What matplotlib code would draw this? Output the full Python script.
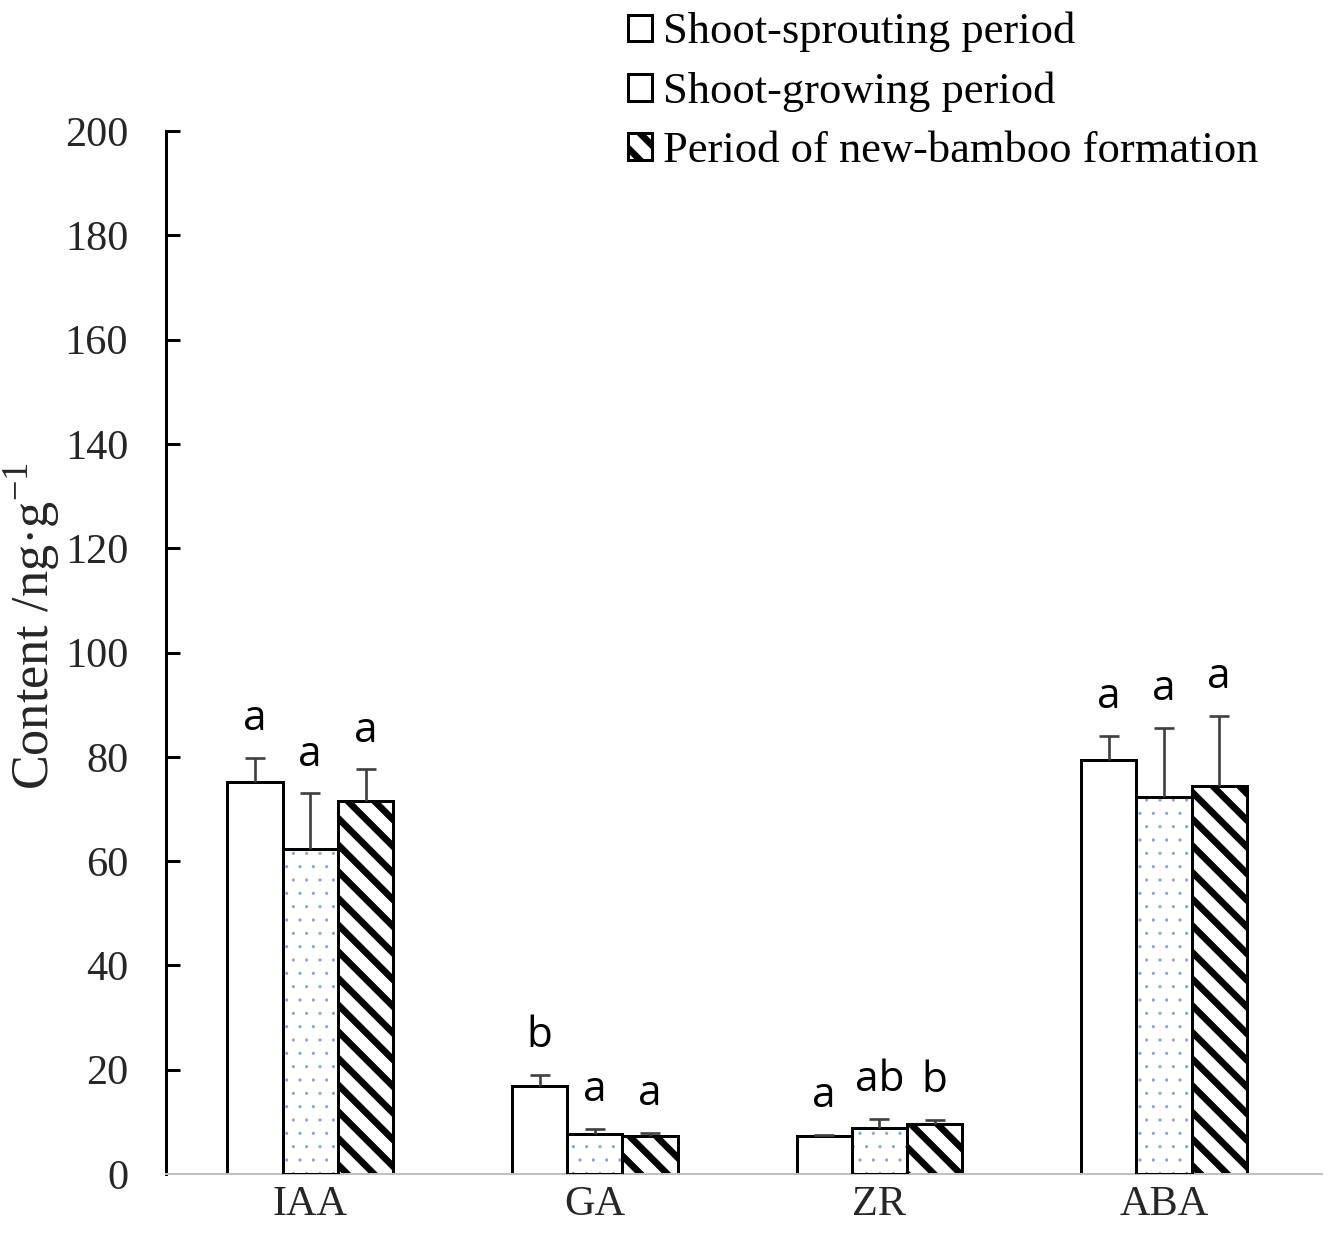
import numpy as np
import matplotlib
matplotlib.use('Agg')
import matplotlib.pyplot as plt
from matplotlib.patches import Patch

# Hormongehalte in drei Wachstumsphasen (Mittelwert + Standardfehler)
hormones = ['IAA', 'GA', 'ZR', 'ABA']
periods = ['Shoot-sprouting period', 'Shoot-growing period',
           'Period of new-bamboo formation']

sprouting = [75.1, 16.9, 7.3, 79.4]
sprouting_err = [4.7, 2.1, 0.2, 4.6]
growing = [62.3, 7.6, 8.8, 72.3]
growing_err = [10.7, 1.0, 1.7, 13.3]
formation = [71.6, 7.3, 9.6, 74.4]
formation_err = [6.0, 0.6, 0.8, 13.4]

letters_sprouting = ['a', 'b', 'a', 'a']
letters_growing = ['a', 'a', 'ab', 'a']
letters_formation = ['a', 'a', 'b', 'a']

plt.rcParams['font.family'] = ['Liberation Serif', 'DejaVu Serif']
plt.rcParams['mathtext.fontset'] = 'custom'
plt.rcParams['mathtext.rm'] = 'Liberation Serif'

fig = plt.figure(figsize=(16.6, 15.5625), dpi=80)
ax = fig.add_axes([0.125, 0.057, 0.8705, 0.8378])

x = np.arange(len(hormones))
w = 0.194
lw = 2.7

b1 = ax.bar(x - w, sprouting, w, color='white', edgecolor='black', linewidth=lw, zorder=2)

# Schraffur-Linienbreite wird beim Erzeugen der Balken übernommen
with plt.rc_context({'hatch.linewidth': 0.4}):
    b2f = ax.bar(x, growing, w, color='white', edgecolor='#8ea2be', hatch='.',
                 linewidth=0, zorder=2)
b2e = ax.bar(x, growing, w, fill=False, edgecolor='black', linewidth=lw, zorder=3)

with plt.rc_context({'hatch.linewidth': 6.0}):
    b3 = ax.bar(x + w, formation, w, color='white', edgecolor='black', hatch='\\',
                linewidth=lw, zorder=2)
    stripe_handle = Patch(facecolor='white', edgecolor='black', linewidth=lw, hatch='\\')

series = [(x - w, sprouting, sprouting_err, letters_sprouting),
          (x, growing, growing_err, letters_growing),
          (x + w, formation, formation_err, letters_formation)]

for xs, vals, errs, letters in series:
    eb = ax.errorbar(xs, vals, yerr=[np.zeros(len(vals)), errs], fmt='none',
                     ecolor='#404040', elinewidth=2.4, capsize=9, capthick=2.4, zorder=4)
    eb[1][0].set_visible(False)
    for xi, v, e, t in zip(xs, vals, errs, letters):
        ax.annotate(t, (xi, v + e), xytext=(0, 25), textcoords='offset points',
                    ha='center', va='baseline', fontsize=38, family='Open Sans')

ax.set_xlim(-0.507, 3.555)
ax.set_ylim(0, 200)
ax.set_xticks(x)
ax.set_xticklabels(hormones)
ax.set_yticks(range(0, 201, 20))

ax.tick_params(axis='y', direction='in', length=12.6, width=lw, pad=34,
               labelsize=38, colors='black')
ax.tick_params(axis='x', length=0, pad=10, labelsize=38)
ax.yaxis.get_major_ticks()[0].tick1line.set_visible(False)
for lab in ax.get_yticklabels() + ax.get_xticklabels():
    lab.set_color('#262626')

ax.spines['top'].set_visible(False)
ax.spines['right'].set_visible(False)
ax.spines['left'].set_linewidth(lw)
ax.spines['left'].set_color('black')
ax.spines['bottom'].set_linewidth(1.8)
ax.spines['bottom'].set_color('#c0c0c0')

ax.set_ylabel('Content /ng·g$^{-1}$', fontsize=47, color='#262626')
ax.yaxis.set_label_coords(-0.089, 0.525)

legend_handles = [Patch(facecolor='white', edgecolor='black', linewidth=lw),
                  Patch(facecolor='white', edgecolor='black', linewidth=lw),
                  stripe_handle]
with plt.rc_context({'hatch.linewidth': 6.0}):
    fig.legend(legend_handles, periods, loc='upper left',
               bbox_to_anchor=(628 / 1328, 1 - 12 / 1245), frameon=False, fontsize=40,
               handlelength=0.54, handleheight=0.54, handletextpad=0.25,
               labelspacing=0.43, borderpad=0, borderaxespad=0)

fig.savefig('out.png', dpi=80)
